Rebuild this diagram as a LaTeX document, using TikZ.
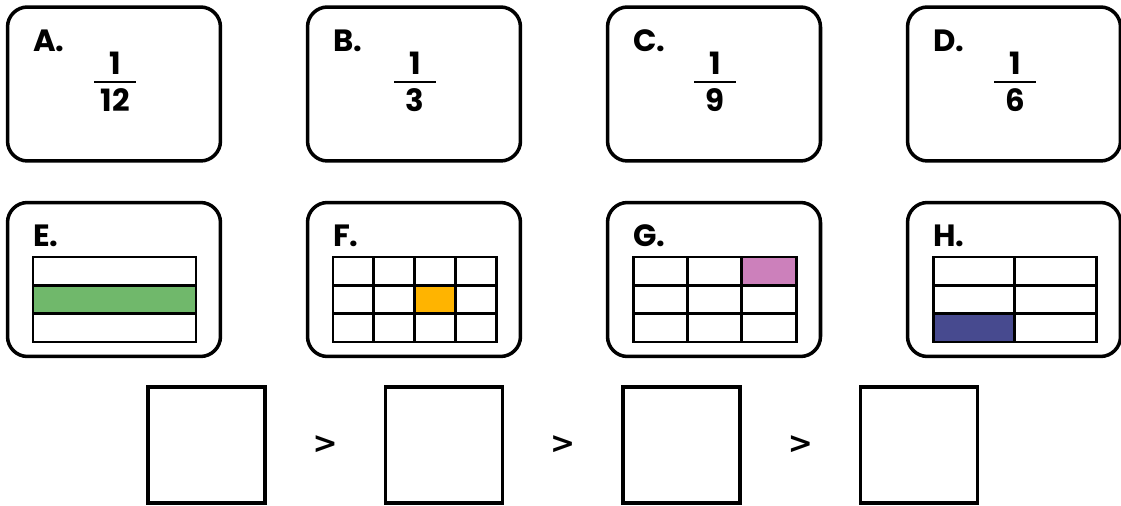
\documentclass[tikz,border=0pt]{standalone}
\usepackage{fontspec}
\setmainfont{Poppins}
\newfontfamily\signfont{DejaVu Sans}
\usetikzlibrary{calc,positioning}

\definecolor{barGreen}{HTML}{70B86B}
\definecolor{barOrange}{HTML}{FFB400}
\definecolor{barPink}{HTML}{CC80BB}
\definecolor{barBlue}{HTML}{474A8F}

\begin{document}
\begin{tikzpicture}[x=0.02cm, y=-0.02cm,
        card/.style = {draw, line width=2pt, rounded corners=0.4cm,
                       minimum width=4.26cm, minimum height=3.08cm, inner sep=0pt},
         tag/.style = {font=\fontsize{17.5}{20}\selectfont\bfseries, inner sep=0pt, anchor=base west},
         num/.style = {font=\fontsize{17.5}{20}\selectfont\bfseries, inner sep=0pt, anchor=base},
        slot/.style = {draw, line width=2pt, minimum width=2.34cm, minimum height=2.32cm, inner sep=0pt},
     cellbox/.style = {draw, line width=1.7pt},
                            ]
    \useasboundingbox (0,0) rectangle (1121,506);
    % fractions
    \foreach \l/\d [count=\i from 0] in {A/12,B/3,C/9,D/6}
    {
      \node[card] (top\l) at (114+300*\i, 84) {};
      \node[tag] (tagtop\l) at ([shift={(0.54cm,-0.92cm)}]top\l.north west) {\l.};
      \node[num] (nu\l) at ([shift={(0.02cm,0.18cm)}]top\l.center) {1};
      \node[num] (de\l) at ([shift={(0.02cm,-0.56cm)}]top\l.center) {\d};
      \draw[line width=1.7pt] ([shift={(-0.40cm,0.04cm)}]top\l.center) -- ++(0.84cm,0);
    }
    % pictures
    \foreach \l/\c/\fc/\fr/\col [count=\i from 0] in {E/1/1/2/barGreen, F/4/3/2/barOrange,
                                                     G/3/3/1/barPink, H/2/1/3/barBlue}
    {
      \node[card] (bot\l) at (114+300*\i, 279.5) {};
      \node[tag] (tagbot\l) at ([shift={(0.54cm,-0.92cm)}]bot\l.north west) {\l.};
      \coordinate (g\l) at ($(bot\l.center)+(-81,-22.5)$);
      \fill[\col] ($(g\l)+({(\fc-1)*163/\c},{(\fr-1)*85/3})$) rectangle ++({163/\c},{85/3});
      \foreach \a in {1,...,\c}
        \foreach \b in {1,2,3}
          \draw[cellbox] ($(g\l)+({(\a-1)*163/\c},{(\b-1)*85/3})$) rectangle ++({163/\c},{85/3});
    }
    % answer slots
    \foreach \i in {0,...,3}
      \node[slot] (slot\i) at (206.5+237.5*\i, 445) {};
    \foreach \i [count=\j] in {0,1,2}
      \node[inner sep=0pt, font=\signfont\fontsize{17}{20}\selectfont\bfseries] (gt\i)
        at ($(slot\i)!0.5!(slot\j)$) {>};
\end{tikzpicture}
\end{document}
